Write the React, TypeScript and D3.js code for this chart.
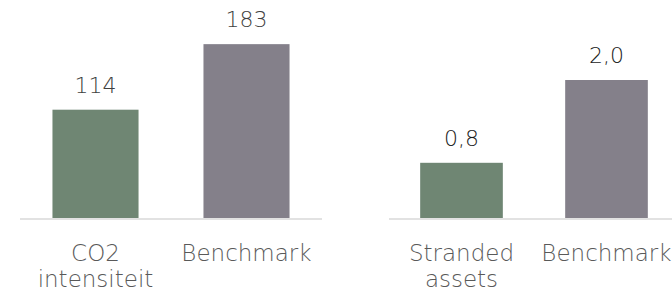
import React from "react";
import * as d3 from "d3";

const leftCategories = [["CO2", "intensiteit"], ["Benchmark"]];
const leftValues = [114, 183];
const leftLabels = ["114", "183"];

const rightCategories = [["Stranded", "assets"], ["Benchmark"]];
const rightValues = [0.8, 2.0];
const rightLabels = ["0,8", "2,0"];

const barColors = ["#6F8673", "#84808A"];

const W = 672;
const H = 292;
const FONT = "'Century Gothic', 'DejaVu Sans', sans-serif";

type PanelProps = {
  cats: string[][];
  values: number[];
  labels: string[];
  x0: number;
  x1: number;
  yMax: number;
  yTop: number;
  valueColor: string;
};

function Panel({ cats, values, labels, x0, x1, yMax, yTop, valueColor }: PanelProps) {
  const baseY = 218;
  const x = d3
    .scaleBand<number>()
    .domain(values.map((_, i) => i))
    .range([x0, x1])
    .paddingInner(0.43)
    .paddingOuter(0.215);
  const y = d3.scaleLinear().domain([0, yMax]).range([baseY, yTop]);
  return (
    <g>
      {values.map((v, i) => (
        <rect
          key={"b" + i}
          x={x(i)}
          y={y(v)}
          width={x.bandwidth()}
          height={y(0) - y(v)}
          fill={barColors[i]}
        />
      ))}
      <line x1={x0} x2={x1} y1={baseY + 1} y2={baseY + 1} stroke="#D9D9D9" strokeWidth={1.5} />
      {values.map((v, i) => (
        <text
          key={"v" + i}
          x={(x(i) as number) + x.bandwidth() / 2}
          y={y(v) - 17}
          textAnchor="middle"
          fontSize={22}
          fontWeight={300}
          fill={valueColor}
          fontFamily={FONT}
        >
          {labels[i]}
        </text>
      ))}
      {cats.map((lines, i) => (
        <text
          key={"c" + i}
          x={(x(i) as number) + x.bandwidth() / 2}
          textAnchor="middle"
          fontSize={23}
          fontWeight={300}
          fill="#595959"
          fontFamily={FONT}
        >
          {lines.map((l, j) => (
            <tspan key={j} x={(x(i) as number) + x.bandwidth() / 2} y={261 + j * 26}>
              {l}
            </tspan>
          ))}
        </text>
      ))}
    </g>
  );
}

export default function App() {
  return (
    <svg
      width={W}
      height={H}
      style={{ position: "absolute", left: 0, top: 0, background: "#fff" }}
    >
      <rect width={W} height={H} fill="#fff" />
      <Panel
        cats={leftCategories}
        values={leftValues}
        labels={leftLabels}
        x0={20}
        x1={322}
        yMax={200}
        yTop={28}
        valueColor="#404040"
      />
      <Panel
        cats={rightCategories}
        values={rightValues}
        labels={rightLabels}
        x0={389}
        x1={679}
        yMax={2.5}
        yTop={45.5}
        valueColor="#1A1A1A"
      />
    </svg>
  );
}
